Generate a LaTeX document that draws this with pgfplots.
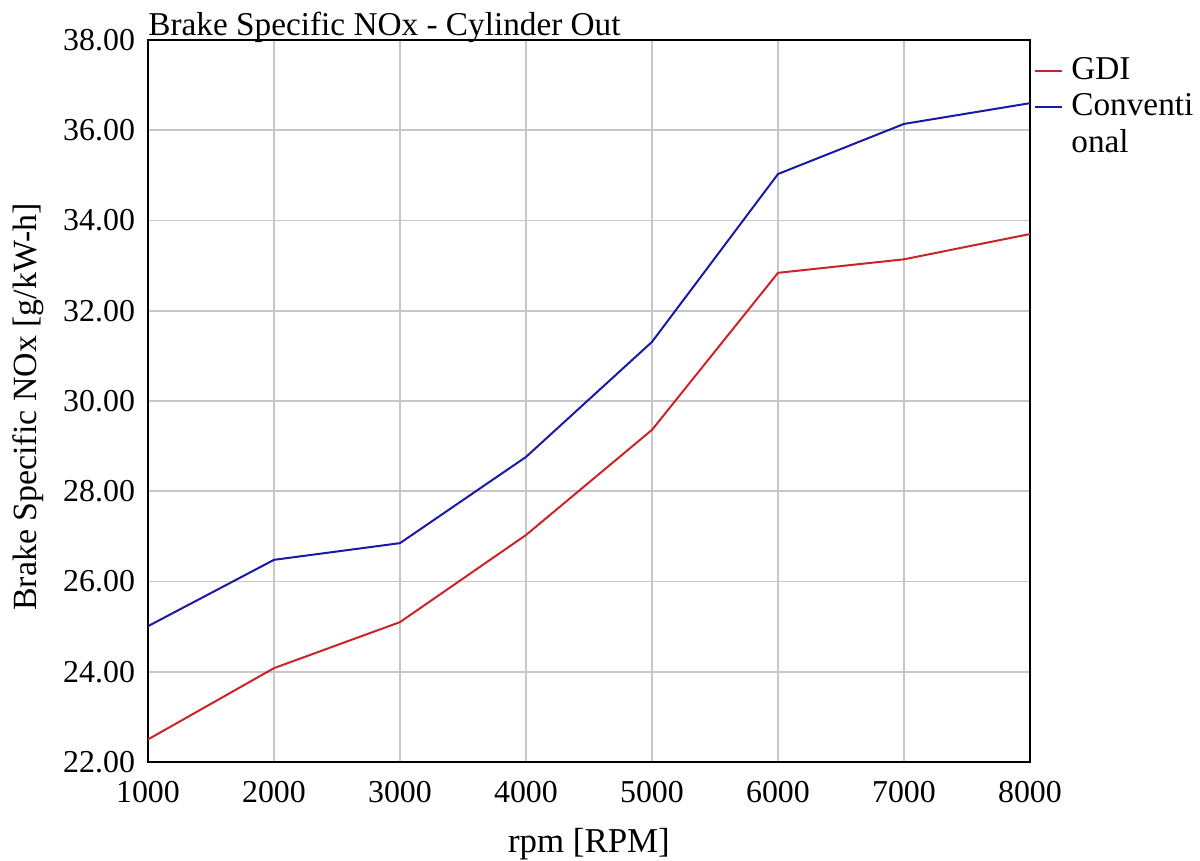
\documentclass[border=0pt]{standalone}
\usepackage{pgfplots}
\pgfplotsset{compat=1.18}
\usepackage{fontspec}
\setmainfont{Liberation Serif}
\definecolor{gdired}{RGB}{205,35,40}
\definecolor{convblue}{RGB}{25,25,165}
\begin{document}
\fontsize{16}{18.5}\selectfont
\begin{tikzpicture}
\begin{axis}[
  scale only axis,
  width=441bp, height=361bp,
  xmin=1000, xmax=8000, ymin=22, ymax=38,
  xtick={1000,2000,...,8000},
  ytick={22,24,...,38},
  grid=major,
  grid style={line width=0.8bp, draw=black!22},
  axis line style={line width=1.2bp, black},
  major tick length=0pt,
  /pgf/number format/assume math mode=true,
  xticklabel style={/pgf/number format/fixed, /pgf/number format/set thousands separator={}, /pgf/number format/precision=0, yshift=-4bp},
  yticklabel style={/pgf/number format/fixed, /pgf/number format/fixed zerofill, /pgf/number format/precision=2, xshift=-1bp},
  tick label style={font=\fontsize{16}{18.5}\selectfont},
  xlabel={rpm [RPM]},
  ylabel={Brake Specific NOx [g/kW-h]},
  xlabel style={at={(0.5,0)}, anchor=base, yshift=-45bp, font=\fontsize{17.5}{20}\selectfont},
  ylabel style={at={(0,0.5)}, anchor=center, yshift=60bp, xshift=-3bp, font=\fontsize{17}{20}\selectfont},
  title={Brake Specific NOx - Cylinder Out},
  title style={at={(0,1)}, anchor=base west, inner sep=0pt, yshift=-3.5bp, font=\fontsize{16.7}{19}\selectfont},
  legend style={at={(1,1)}, anchor=north west, draw=none, fill=none, xshift=-1bp, yshift=-5.5bp,
    font=\fontsize{16.7}{19}\selectfont, nodes={inner xsep=4bp, inner ysep=1pt}, row sep=2.7bp},
  legend cell align=left,
  legend image code/.code={\draw[#1] (0bp,0bp) -- (13.5bp,0bp);},
]
\addplot[gdired, line width=1bp] coordinates {
(1000,22.50) (2000,24.08) (3000,25.10) (4000,27.03) (5000,29.36) (6000,32.84) (7000,33.14) (8000,33.70)};
\addlegendentry{GDI}
\addplot[convblue, line width=1bp] coordinates {
(1000,25.01) (2000,26.48) (3000,26.85) (4000,28.76) (5000,31.31) (6000,35.03) (7000,36.14) (8000,36.60)};
\addlegendentry{Conventi}
\addlegendimage{empty legend}
\addlegendentry{onal}
\end{axis}
\pgfresetboundingbox
\path ([xshift=-74bp,yshift=-49.5bp]current axis.south west) rectangle ++(600bp,430.5bp);
\end{tikzpicture}
\end{document}
